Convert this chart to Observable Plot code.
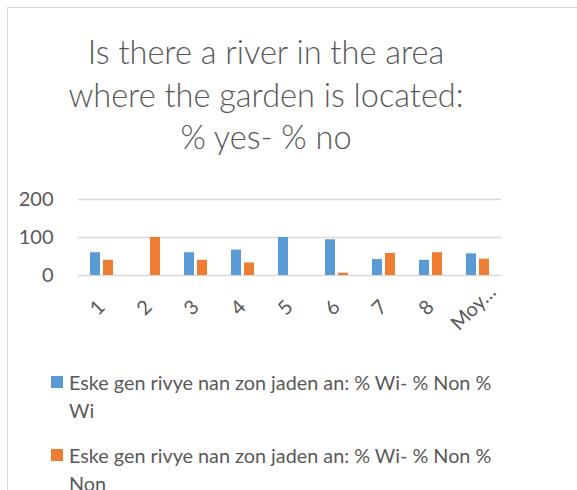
<!DOCTYPE html>
<html>
<head>
<meta charset="utf-8">
<script src="https://cdn.jsdelivr.net/npm/d3@7"></script>
<script src="https://cdn.jsdelivr.net/npm/@observablehq/plot@0.6"></script>
<style>
  body { margin: 0; background: #fff; }
  #wrap { position: relative; width: 577px; height: 490px; overflow: hidden; background: #fff; font-family: Lato, "Open Sans", sans-serif; color: #595959; }
  #frame { position: absolute; left: 7px; top: 7px; width: 700px; height: 700px; border: 1.5px solid #d9d9d9; box-sizing: border-box; }
  #title { position: absolute; left: 0; top: 31px; width: 532px; text-align: center; font-size: 32.5px; line-height: 42.5px; font-weight: 300; }
  #chart { position: absolute; left: 0; top: 180px; }
  #legend { position: absolute; left: 51px; top: 368px; }
  .item { display: flex; align-items: flex-start; margin-bottom: 17px; }
  .sw { width: 12px; height: 12px; margin-top: 8px; margin-right: 6px; flex: none; }
  .lt { width: 436px; font-size: 19.8px; line-height: 28px; }
</style>
</head>
<body>
<div id="wrap">
  <div id="frame"></div>
  <div id="title"></div>
  <div id="chart"></div>
  <div id="legend"></div>
</div>
<script>
const titleLines = ["Is there a river in the area", "where the garden is located:", "% yes- % no"];
const categories = ["1", "2", "3", "4", "5", "6", "7", "8", "Moy…"];
const seriesKeys = ["Wi", "Non"];
const seriesNames = [
  "Eske gen rivye nan zon jaden an: % Wi- % Non % Wi",
  "Eske gen rivye nan zon jaden an: % Wi- % Non % Non"
];
const seriesColors = ["#5b9bd5", "#ed7d31"];
const wiValues  = [60, 0, 60, 67, 100, 94, 42, 40, 57];
const nonValues = [40, 100, 40, 33, 0, 6, 58, 60, 43];
const yTicks = [0, 100, 200];

const table = [];
categories.forEach((c, i) => {
  table.push({category: c, series: "Wi", value: wiValues[i]});
  table.push({category: c, series: "Non", value: nonValues[i]});
});

document.getElementById("title").innerHTML = titleLines.join("<br>");

const chart = Plot.plot({
  width: 577,
  height: 160,
  marginTop: 19,
  marginBottom: 65,
  marginLeft: 76,
  marginRight: 75,
  style: {fontFamily: "Lato, 'Open Sans', sans-serif", fontSize: "20px", color: "#595959", background: "transparent"},
  facet: {data: table, x: "category"},
  fx: {domain: categories, padding: 0, axis: null, label: null},
  x: {domain: seriesKeys, paddingInner: 0.214, paddingOuter: 0.8, axis: null},
  y: {domain: [0, 200], ticks: yTicks, tickSize: 0, tickPadding: 25, label: null},
  color: {domain: seriesKeys, range: seriesColors},
  marks: [
    Plot.ruleY(yTicks, {stroke: "#d9d9d9", strokeWidth: 1.5}),
    Plot.barY(table, {x: "series", y: "value", fill: "series"}),
    Plot.text(table, {filter: d => d.series === "Wi", text: "category", frameAnchor: "bottom", dy: 37, rotate: -45, textAnchor: "middle", fill: "#595959", fontSize: 20})
  ]
});
document.getElementById("chart").appendChild(chart);

const legend = document.getElementById("legend");
seriesNames.forEach((name, i) => {
  const it = document.createElement("div");
  it.className = "item";
  const sw = document.createElement("div");
  sw.className = "sw";
  sw.style.background = seriesColors[i];
  const lt = document.createElement("div");
  lt.className = "lt";
  lt.textContent = name;
  it.appendChild(sw);
  it.appendChild(lt);
  legend.appendChild(it);
});
</script>
</body>
</html>
